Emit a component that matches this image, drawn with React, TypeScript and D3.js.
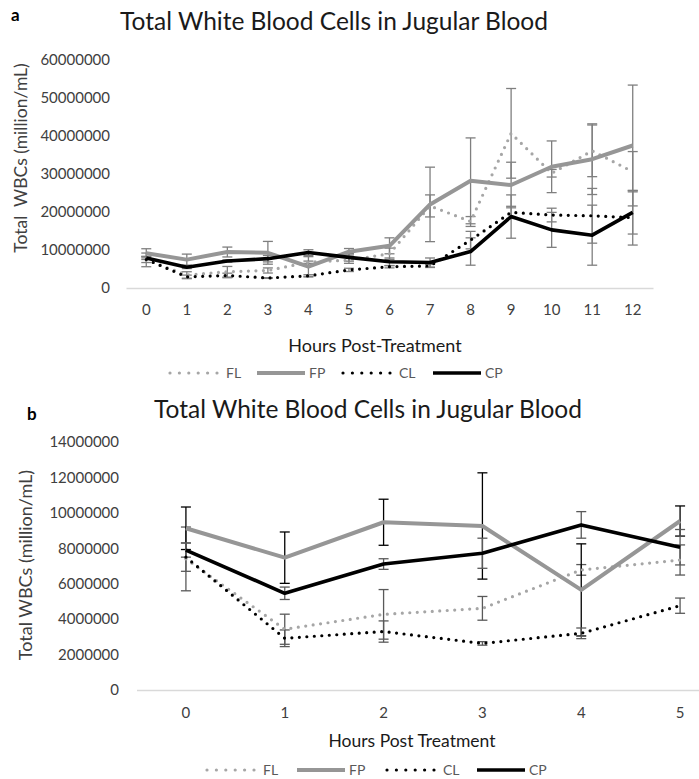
import React, { useEffect, useRef } from 'react';
import * as d3 from 'd3';

// panel a: 0-12 hours
const hoursA = ['0', '1', '2', '3', '4', '5', '6', '7', '8', '9', '10', '11', '12'];
const flA = [7400000, 3430000, 4270000, 4610000, 6780000, 7340000, 9000000, 21600000, 17500000, 40700000, 30200000, 36100000, 30600000];
const fpA = [9130000, 7470000, 9470000, 9260000, 5650000, 9540000, 11100000, 22000000, 28200000, 27100000, 31900000, 33900000, 37500000];
const clA = [7500000, 2920000, 3300000, 2630000, 3200000, 4760000, 5600000, 5800000, 12600000, 19900000, 19200000, 19000000, 18500000];
const cpA = [7900000, 5460000, 7110000, 7720000, 9320000, 8060000, 6900000, 6700000, 9600000, 18800000, 15300000, 13900000, 19900000];
const flErrA = [1800000, 850000, 1400000, 670000, 300000, 850000, 1500000, 2900000, 1300000, 11800000, 1000000, 6800000, 5300000];
const fpErrA = [1200000, 1450000, 1300000, 3000000, 2600000, 850000, 2100000, 9800000, 11300000, 6000000, 6800000, 9300000, 15900000];
const clErrA = [800000, 470000, 600000, 100000, 300000, 430000, 300000, 400000, 2300000, 1600000, 1800000, 7200000, 7200000];
const cpErrA = [400000, 350000, 300000, 850000, 750000, 1000000, 1000000, 1200000, 3600000, 5700000, 4600000, 7900000, 5700000];
const yTicksA = [0, 10000000, 20000000, 30000000, 40000000, 50000000, 60000000];

// panel b: 0-5 hours
const hoursB = ['0', '1', '2', '3', '4', '5'];
const flB = [7400000, 3430000, 4270000, 4610000, 6780000, 7340000];
const fpB = [9130000, 7470000, 9470000, 9260000, 5650000, 9540000];
const clB = [7500000, 2920000, 3300000, 2630000, 3200000, 4760000];
const cpB = [7900000, 5460000, 7110000, 7720000, 9320000, 8060000];
const flErrB = [1800000, 850000, 1400000, 670000, 300000, 850000];
const fpErrB = [1200000, 1450000, 1300000, 3000000, 2600000, 850000];
const clErrB = [800000, 470000, 600000, 100000, 300000, 430000];
const cpErrB = [400000, 350000, 300000, 850000, 750000, 1000000];
const yTicksB = [0, 2000000, 4000000, 6000000, 8000000, 10000000, 12000000, 14000000];

const seriesNames = ['FL', 'FP', 'CL', 'CP'];

const FONT = 'Lato, "Open Sans", sans-serif';
const TEXT = '#404040';

function drawPanel(svg, cfg) {
    const g = svg.append('g');

    const x = d3.scaleBand().domain(cfg.cats).range([cfg.left, cfg.right]);
    const y = d3.scaleLinear().domain([0, cfg.yMax]).range([cfg.bottom, cfg.top]);
    const cx = d => x(d) + x.bandwidth() / 2;

    // label + title
    g.append('text').attr('x', cfg.letterX).attr('y', cfg.letterY)
        .attr('font-family', FONT).attr('font-weight', 'bold').attr('font-size', 17).attr('fill', '#000')
        .text(cfg.letter);
    g.append('text').attr('x', cfg.titleX).attr('y', cfg.titleY).attr('text-anchor', 'middle')
        .attr('font-family', FONT).attr('font-size', cfg.titleSize).attr('fill', '#1a1a1a')
        .text('Total White Blood Cells in Jugular Blood');

    // axes
    const yAxis = g.append('g').attr('transform', `translate(${cfg.yLabelX},0)`)
        .call(d3.axisLeft(y).tickValues(cfg.yTicks).tickSize(0).tickPadding(0).tickFormat(d3.format('d')));
    yAxis.select('.domain').remove();
    yAxis.selectAll('text').attr('font-family', FONT).attr('font-size', cfg.tickSize).attr('fill', TEXT);

    const xAxis = g.append('g').attr('transform', `translate(0,${cfg.bottom})`)
        .call(d3.axisBottom(x).tickSize(0).tickPadding(cfg.xPad));
    xAxis.select('.domain').attr('stroke', '#d9d9d9').attr('stroke-width', 1.3);
    xAxis.selectAll('text').attr('font-family', FONT).attr('font-size', cfg.tickSize).attr('fill', TEXT);

    g.append('text')
        .attr('transform', `translate(${cfg.yTitleX},${cfg.yTitleY}) rotate(-90)`)
        .attr('text-anchor', 'middle').attr('font-family', FONT).attr('font-size', cfg.yTitleSize).attr('fill', TEXT)
        .attr('xml:space', 'preserve')
        .text(cfg.yTitle);
    g.append('text').attr('x', cfg.xTitleX).attr('y', cfg.xTitleY).attr('text-anchor', 'middle')
        .attr('font-family', FONT).attr('font-size', cfg.xTitleSize).attr('fill', '#1a1a1a')
        .text(cfg.xTitle);

    const styles = [
        { color: '#a6a6a6', width: 3.2, dash: '0 7.5', cap: 'round' },
        { color: '#969696', width: 4, dash: null, cap: 'butt' },
        { color: '#000', width: 3.2, dash: '0 7.5', cap: 'round' },
        { color: '#000', width: 3.6, dash: null, cap: 'butt' },
    ];

    const line = d3.line().x((d, i) => cx(cfg.cats[i])).y(d => y(d));

    // error bars
    cfg.series.forEach((s, si) => {
        const eb = g.append('g').attr('stroke', cfg.errColors[si]).attr('stroke-width', 1.3);
        s.values.forEach((v, i) => {
            const e = s.errs[i];
            const px = cx(cfg.cats[i]);
            eb.append('line').attr('x1', px).attr('x2', px).attr('y1', y(v + e)).attr('y2', y(v - e));
            eb.append('line').attr('x1', px - 5).attr('x2', px + 5).attr('y1', y(v + e)).attr('y2', y(v + e));
            eb.append('line').attr('x1', px - 5).attr('x2', px + 5).attr('y1', y(v - e)).attr('y2', y(v - e));
        });
    });

    // lines
    cfg.series.forEach((s, si) => {
        const st = styles[si];
        g.append('path').datum(s.values).attr('d', line).attr('fill', 'none')
            .attr('stroke', st.color).attr('stroke-width', st.width)
            .attr('stroke-linecap', st.cap).attr('stroke-linejoin', 'round')
            .attr('stroke-dasharray', st.dash);
    });

    // legend
    seriesNames.forEach((name, i) => {
        const st = styles[i];
        const lx = cfg.legendX[i];
        g.append('line').attr('x1', lx).attr('x2', lx + 48).attr('y1', cfg.legendY).attr('y2', cfg.legendY)
            .attr('stroke', st.color).attr('stroke-width', st.width)
            .attr('stroke-linecap', st.cap).attr('stroke-dasharray', st.dash ? '0 9.4' : null);
        g.append('text').attr('x', lx + (st.dash ? 56 : 52)).attr('y', cfg.legendY).attr('dy', '0.35em')
            .attr('font-family', FONT).attr('font-size', 14).attr('fill', '#595959')
            .text(name);
    });
}

export default function App() {
    const ref = useRef(null);

    useEffect(() => {
        const svg = d3.select(ref.current);
        svg.selectAll('*').remove();

        drawPanel(svg, {
            letter: 'a', letterX: 11, letterY: 21,
            titleX: 334, titleY: 30, titleSize: 24.5,
            cats: hoursA, left: 126, right: 653, top: 60, bottom: 288,
            yMax: 60000000, yTicks: yTicksA, yLabelX: 110, tickSize: 15, xPad: 16,
            yTitle: 'Total  WBCs (million/mL)', yTitleX: 27, yTitleY: 158, yTitleSize: 17.5,
            xTitle: 'Hours Post-Treatment', xTitleX: 375, xTitleY: 352, xTitleSize: 18,
            legendX: [170, 257, 343, 433], legendY: 373,
            errColors: ['#7f7f7f', '#7f7f7f', '#7f7f7f', '#7f7f7f'],
            series: [
                { values: flA, errs: flErrA },
                { values: fpA, errs: fpErrA },
                { values: clA, errs: clErrA },
                { values: cpA, errs: cpErrA },
            ],
        });

        drawPanel(svg, {
            letter: 'b', letterX: 27, letterY: 420,
            titleX: 368, titleY: 418, titleSize: 24.5,
            cats: hoursB, left: 136.5, right: 729.5, top: 442, bottom: 690,
            yMax: 14000000, yTicks: yTicksB, yLabelX: 119, tickSize: 15, xPad: 17,
            yTitle: 'Total WBCs (million/mL)', yTitleX: 32, yTitleY: 565, yTitleSize: 18,
            xTitle: 'Hours Post Treatment', xTitleX: 412, xTitleY: 747, xTitleSize: 17.5,
            legendX: [207, 297, 387, 477], legendY: 770,
            errColors: ['#595959', '#000', '#595959', '#595959'],
            series: [
                { values: flB, errs: flErrB },
                { values: fpB, errs: fpErrB },
                { values: clB, errs: clErrB },
                { values: cpB, errs: cpErrB },
            ],
        });
    }, []);

    return (
        <svg ref={ref} width={699} height={779}
            style={{ position: 'absolute', left: 0, top: 0, background: '#fff' }} />
    );
}
